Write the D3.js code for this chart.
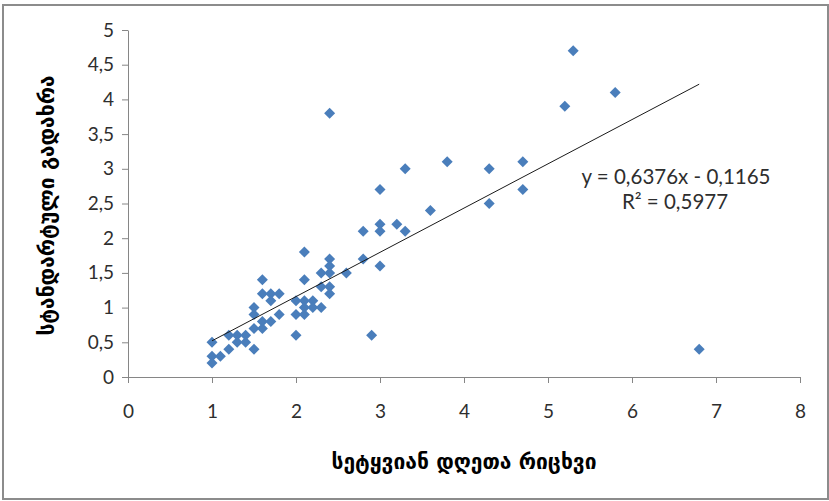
<!DOCTYPE html>
<html>
<head>
<meta charset="utf-8">
<script src="https://cdn.jsdelivr.net/npm/d3@7"></script>
<style>
html,body{margin:0;padding:0;background:#fff;}
svg{display:block;}
</style>
</head>
<body>
<svg id="chart" width="829" height="501"></svg>
<script>
// ---- data ----
const xValues = [1.0,1.0,1.0,1.1,1.2,1.2,1.3,1.3,1.4,1.4,1.5,1.5,1.5,1.5,1.6,1.6,1.6,1.6,1.7,1.7,1.7,1.8,1.8,
  2.0,2.0,2.0,2.1,2.1,2.1,2.1,2.1,2.2,2.2,2.3,2.3,2.3,2.4,2.4,2.4,2.4,2.4,2.4,2.6,2.8,2.8,2.9,
  3.0,3.0,3.0,3.0,3.2,3.3,3.3,3.6,3.8,4.3,4.3,4.7,4.7,5.2,5.3,5.8,6.8];
const yValues = [0.5,0.3,0.2,0.3,0.6,0.4,0.6,0.5,0.6,0.5,1.0,0.9,0.7,0.4,1.4,1.2,0.8,0.7,1.2,1.1,0.8,1.2,0.9,
  1.1,0.9,0.6,1.8,1.4,1.1,1.0,0.9,1.1,1.0,1.5,1.3,1.0,3.8,1.7,1.6,1.5,1.3,1.2,1.5,2.1,1.7,0.6,
  2.7,2.2,2.1,1.6,2.2,3.0,2.1,2.4,3.1,3.0,2.5,3.1,2.7,3.9,4.7,4.1,0.4];
const xTicks = [0,1,2,3,4,5,6,7,8];
const yTicks = [0,0.5,1,1.5,2,2.5,3,3.5,4,4.5,5];
const trendSlope = 0.6376;
const trendIntercept = -0.1165;
const trendRange = [1.0, 6.8];
const equationLabel = "y = 0,6376x - 0,1165";
const r2Label = "R² = 0,5977";
const xTitle = "სეტყვიან დღეთა რიცხვი";
const yTitle = "სტანდარტული გადახრა";

// ---- drawing ----
const svg = d3.select("#chart");
const W = 829, H = 501;
const mLeft = 128, mRight = 800, mTop = 30, mBottom = 377;
const x = d3.scaleLinear().domain([0, 8]).range([mLeft, mRight]);
const y = d3.scaleLinear().domain([0, 5]).range([mBottom, mTop]);
const loc = d3.formatLocale({decimal: ",", thousands: " ", grouping: [3], currency: ["", ""]});
const fmt = v => loc.format("~g")(v);
const axisColor = "#868686";
const textColor = "#2e2e2e";
const tickFont = "Lato, 'Open Sans', sans-serif";

// outer border
svg.append("rect").attr("x", 3).attr("y", 5).attr("width", W - 4).attr("height", H - 7)
  .attr("fill", "#fff").attr("stroke", "#8c8c8c").attr("stroke-width", 2);

// x axis
const gx = svg.append("g").attr("transform", `translate(0,${mBottom})`)
  .call(d3.axisBottom(x).tickValues(xTicks).tickFormat(fmt).tickSize(6).tickSizeOuter(0).tickPadding(22));
gx.select(".domain").attr("stroke", axisColor);
gx.selectAll(".tick line").attr("stroke", axisColor);
gx.selectAll("text").attr("fill", textColor).style("font-family", tickFont).style("font-size", "19px");

// y axis
const gy = svg.append("g").attr("transform", `translate(${mLeft},0)`)
  .call(d3.axisLeft(y).tickValues(yTicks).tickFormat(fmt).tickSize(6).tickSizeOuter(0).tickPadding(8));
gy.select(".domain").attr("stroke", axisColor);
gy.selectAll(".tick line").attr("stroke", axisColor);
gy.selectAll("text").attr("fill", textColor).style("font-family", tickFont).style("font-size", "19px");

// points
const pts = xValues.map((v, i) => ({x: v, y: yValues[i]}));
svg.append("g").selectAll("path").data(pts).enter().append("path")
  .attr("transform", d => `translate(${x(d.x)},${y(d.y)})`)
  .attr("d", "M0,-5.5L5.5,0L0,5.5L-5.5,0Z")
  .attr("fill", "#4a7ebb");

// trend line
svg.append("line")
  .attr("x1", x(trendRange[0])).attr("y1", y(trendSlope * trendRange[0] + trendIntercept))
  .attr("x2", x(trendRange[1])).attr("y2", y(trendSlope * trendRange[1] + trendIntercept))
  .attr("stroke", "#1a1a1a").attr("stroke-width", 1);

// equation labels
svg.append("text").attr("x", 676).attr("y", 184).attr("text-anchor", "middle")
  .attr("fill", textColor).style("font-family", tickFont).style("font-size", "20.5px").text(equationLabel);
svg.append("text").attr("x", 675).attr("y", 209).attr("text-anchor", "middle")
  .attr("fill", textColor).style("font-family", tickFont).style("font-size", "20.5px").text(r2Label);

// axis titles
svg.append("text").attr("x", 464).attr("y", 469).attr("text-anchor", "middle")
  .attr("fill", "#000").style("font-family", "'DejaVu Sans', sans-serif").style("font-weight", "bold")
  .style("font-size", "21px").text(xTitle);
svg.append("text").attr("transform", `translate(54,${(mTop + mBottom) / 2 + 2}) rotate(-90)`)
  .attr("text-anchor", "middle")
  .attr("fill", "#000").style("font-family", "'DejaVu Sans', sans-serif").style("font-weight", "bold")
  .style("font-size", "21px").text(yTitle);
</script>
</body>
</html>
